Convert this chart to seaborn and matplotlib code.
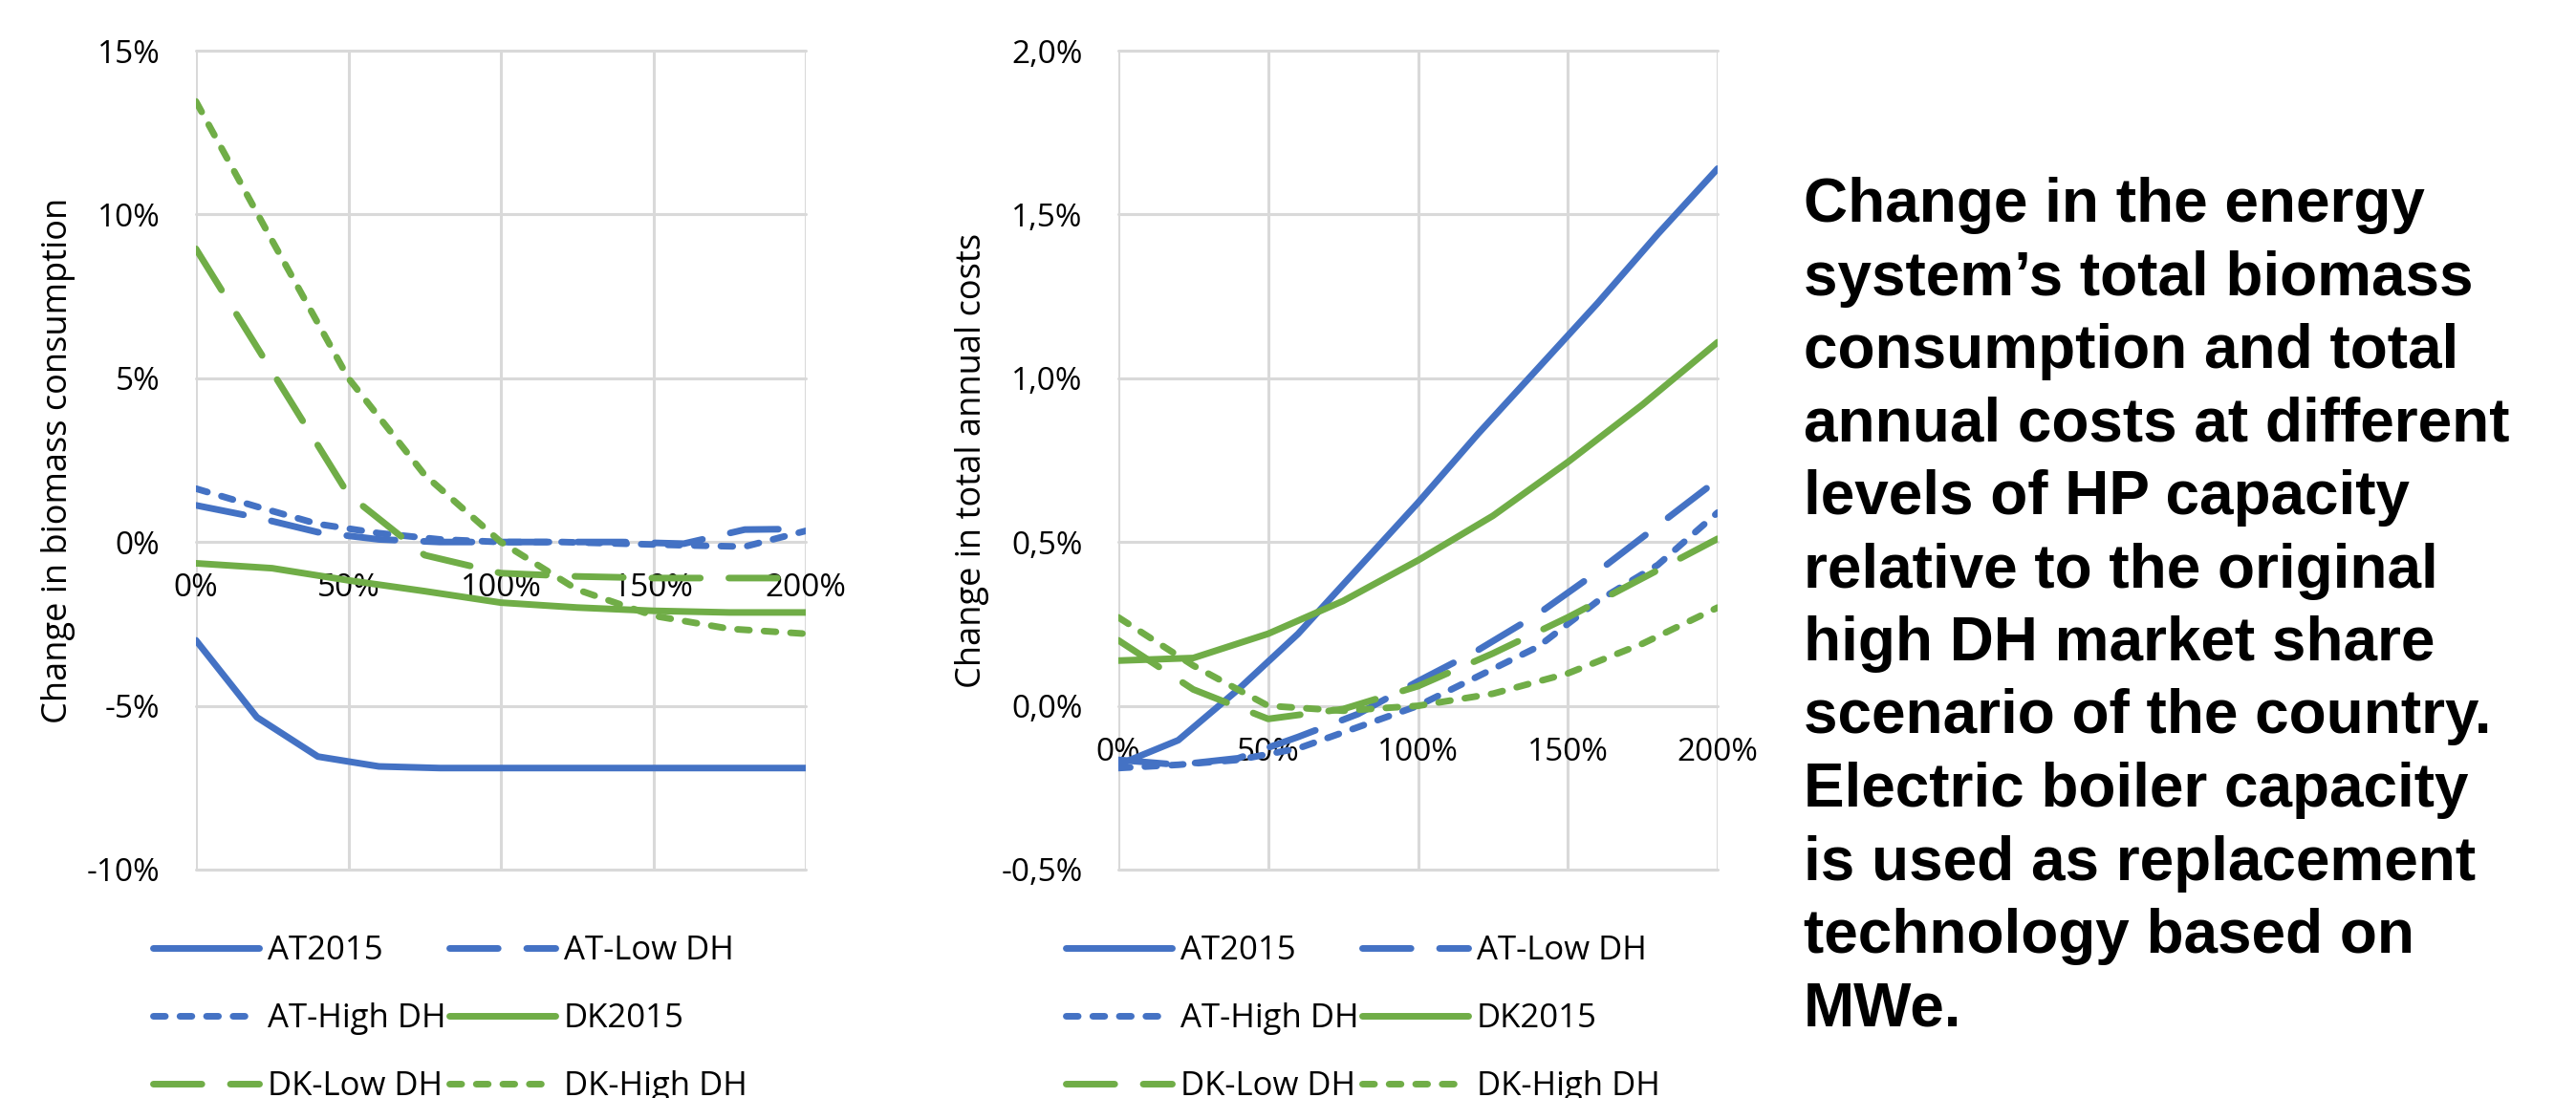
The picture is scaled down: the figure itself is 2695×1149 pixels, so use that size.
import numpy as np
import pandas as pd
import matplotlib
matplotlib.use("Agg")
import matplotlib.pyplot as plt
from matplotlib.lines import Line2D
from matplotlib.ticker import FuncFormatter
import seaborn as sns

# HP capacity relative to original (%), AT runs use 20 % steps, DK runs 25 % steps
x_at = [0, 20, 40, 60, 80, 100, 120, 140, 160, 180, 200]
x_dk = [0, 25, 50, 75, 100, 125, 150, 175, 200]

scenarios = ["AT2015", "AT-Low DH", "AT-High DH", "DK2015", "DK-Low DH", "DK-High DH"]

# change in biomass consumption (%)
bio_at2015 = [-3.0, -5.35, -6.55, -6.85, -6.9, -6.9, -6.9, -6.9, -6.9, -6.9, -6.9]
bio_at_low = [1.12, 0.75, 0.3, 0.08, 0.0, 0.0, 0.0, 0.0, -0.05, 0.38, 0.4]
bio_at_high = [1.63, 1.08, 0.55, 0.27, 0.08, 0.0, 0.0, -0.05, -0.1, -0.14, 0.34]
bio_dk2015 = [-0.65, -0.8, -1.17, -1.5, -1.85, -2.0, -2.1, -2.15, -2.15]
bio_dk_low = [8.95, 5.2, 1.45, -0.4, -0.95, -1.05, -1.1, -1.1, -1.1]
bio_dk_high = [13.45, 9.2, 5.0, 2.05, 0.0, -1.45, -2.25, -2.65, -2.8]

# change in total annual costs (%)
cost_at2015 = [-0.18, -0.105, 0.05, 0.22, 0.42, 0.62, 0.83, 1.03, 1.23, 1.44, 1.64]
cost_at_low = [-0.165, -0.18, -0.16, -0.095, -0.025, 0.075, 0.17, 0.28, 0.41, 0.55, 0.69]
cost_at_high = [-0.19, -0.18, -0.165, -0.13, -0.065, 0.0, 0.09, 0.18, 0.32, 0.43, 0.59]
cost_dk2015 = [0.138, 0.146, 0.22, 0.32, 0.444, 0.58, 0.744, 0.92, 1.11]
cost_dk_low = [0.2, 0.05, -0.04, -0.01, 0.06, 0.16, 0.27, 0.39, 0.51]
cost_dk_high = [0.27, 0.123, 0.0, -0.015, 0.0, 0.037, 0.099, 0.19, 0.3]

caption_lines = [
    "Change in the energy",
    "system\u2019s total biomass",
    "consumption and total",
    "annual costs at different",
    "levels of HP capacity",
    "relative to the original",
    "high DH market share",
    "scenario of the country.",
    "Electric boiler capacity",
    "is used as replacement",
    "technology based on",
    "MWe.",
]

BLUE = "#4472C4"
GREEN = "#70AD47"
LONG = (7.3, 4.3)
SHORT = (1.8, 2.2)
palette = {"AT2015": BLUE, "AT-Low DH": BLUE, "AT-High DH": BLUE,
           "DK2015": GREEN, "DK-Low DH": GREEN, "DK-High DH": GREEN}
dash_map = {"AT2015": "", "AT-Low DH": LONG, "AT-High DH": SHORT,
            "DK2015": "", "DK-Low DH": LONG, "DK-High DH": SHORT}
LW = 5


def to_long(series):
    frames = []
    for name, ys in series.items():
        xs = x_at if name.startswith("AT") else x_dk
        frames.append(pd.DataFrame({"capacity": xs, "change": ys, "scenario": name}))
    return pd.concat(frames, ignore_index=True)


bio = to_long(dict(zip(scenarios, [bio_at2015, bio_at_low, bio_at_high,
                                   bio_dk2015, bio_dk_low, bio_dk_high])))
cost = to_long(dict(zip(scenarios, [cost_at2015, cost_at_low, cost_at_high,
                                    cost_dk2015, cost_dk_low, cost_dk_high])))

sns.set_style("white")
plt.rcParams["font.family"] = ["Open Sans", "DejaVu Sans"]
plt.rcParams["text.color"] = "black"

W, H = 2695, 1149
fig = plt.figure(figsize=(W / 100, H / 100), dpi=100)


def px_axes(x0, x1, y0, y1):
    return fig.add_axes([x0 / W, 1 - y1 / H, (x1 - x0) / W, (y1 - y0) / H])


ax1 = px_axes(205, 843, 53, 910)
ax2 = px_axes(1170, 1797, 53, 910)

line_kws = dict(linewidth=LW, dash_capstyle="round", solid_capstyle="round",
                dash_joinstyle="round", solid_joinstyle="round")

for ax, df in [(ax1, bio), (ax2, cost)]:
    sns.lineplot(data=df, x="capacity", y="change", hue="scenario", style="scenario",
                 hue_order=scenarios, style_order=scenarios, palette=palette,
                 dashes=dash_map, legend=False, errorbar=None, ax=ax, **line_kws)


def style_axis(ax, ylim, yticks, fmt, ylabel, label_x):
    ax.set_xlim(0, 200)
    ax.set_ylim(*ylim)
    ax.set_xticks([0, 50, 100, 150, 200])
    ax.set_yticks(yticks)
    ax.xaxis.set_major_formatter(FuncFormatter(lambda v, p: f"{v:.0f}%"))
    ax.yaxis.set_major_formatter(FuncFormatter(fmt))
    ax.grid(True, color="#d9d9d9", linewidth=2.2)
    ax.set_axisbelow(True)
    for gl in ax.get_xgridlines() + ax.get_ygridlines():
        gl.set_clip_on(False)
    for s in ax.spines.values():
        s.set_visible(False)
    ax.spines["bottom"].set_position(("data", 0))
    ax.tick_params(length=0, labelsize=24, colors="black")
    ax.tick_params(axis="x", pad=23)
    ax.tick_params(axis="y", pad=27)
    ax.set_xlabel("")
    ax.set_ylabel(ylabel, fontsize=26, color="black")
    ax.yaxis.set_label_coords(label_x, 0.5)


style_axis(ax1, (-10, 15), [-10, -5, 0, 5, 10, 15],
           lambda v, p: f"{v:.0f}%", "Change in biomass consumption", -0.197)
style_axis(ax2, (-0.5, 2.0), [-0.5, 0.0, 0.5, 1.0, 1.5, 2.0],
           lambda v, p: f"{v:.1f}%".replace(".", ","), "Change in total annual costs", -0.215)

# legends, Excel style: 3 rows x 2 columns filled row-wise
col_order = ["AT2015", "AT-High DH", "DK-Low DH", "AT-Low DH", "DK2015", "DK-High DH"]


def add_legend(x_px):
    handles = [Line2D([], [], color=palette[n], dashes=dash_map[n], **line_kws)
               for n in col_order]
    fig.legend(handles, col_order, loc="center left", ncol=2,
               bbox_to_anchor=(x_px / W, 1 - 1066 / H), bbox_transform=fig.transFigure,
               frameon=False, fontsize=25, handlelength=3.2, handletextpad=0.26,
               columnspacing=0.08, labelspacing=1.06, borderpad=0, borderaxespad=0)


add_legend(160)
add_legend(1115)

# caption on the right
for i, line in enumerate(caption_lines):
    fig.text(1887 / W, 1 - (232 + i * 76.5) / H, line, fontfamily="Liberation Sans",
             fontweight="bold", fontsize=46, color="black", va="baseline", ha="left")

fig.savefig("out.png", dpi=100)
